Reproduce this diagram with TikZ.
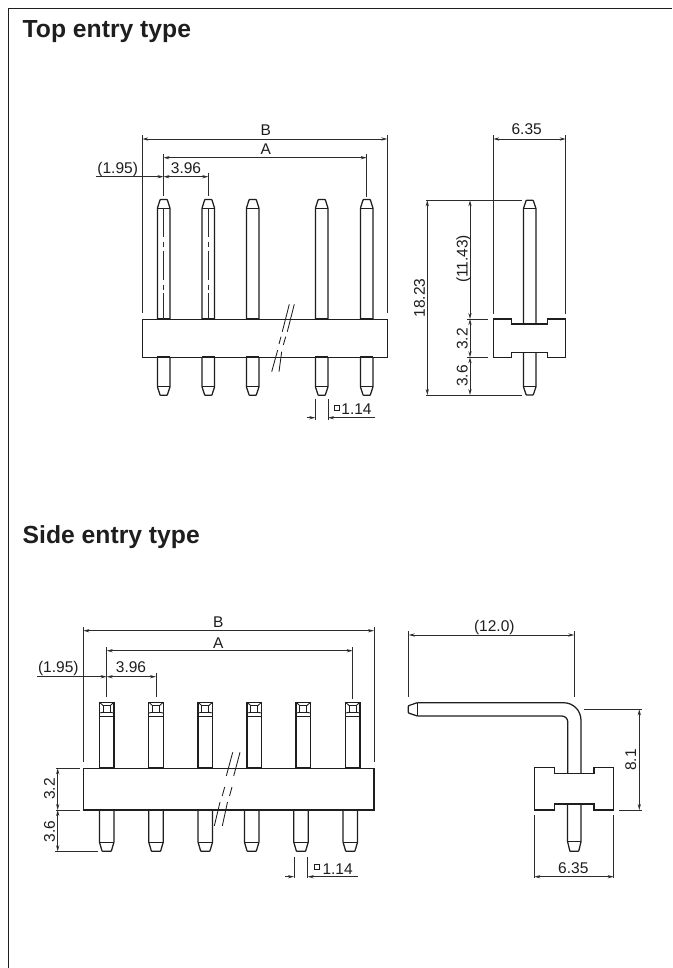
\documentclass[tikz,border=0pt]{standalone}
\usepackage{fontspec}
\setmainfont{Liberation Sans}
\usetikzlibrary{arrows.meta}
\definecolor{ink}{HTML}{1E1E1E}
\definecolor{dimc}{HTML}{2C2C2C}
\tikzset{
  outline/.style={draw=ink,line width=1.25pt,line join=miter},
  thin outline/.style={draw=ink,line width=0.85pt},
  extline/.style={draw=dimc,line width=0.9pt},
  dimline/.style={draw=dimc,line width=0.9pt},
  dimboth/.style={dimline,{Stealth[length=6pt,width=3.2pt]}-{Stealth[length=6pt,width=3.2pt]}},
  dimend/.style={dimline,-{Stealth[length=6pt,width=3.2pt]}},
  lab/.style={inner sep=0pt,anchor=base,text=ink,font=\fontsize{15.5}{17}\selectfont},
  vlab/.style={lab,rotate=90},
  heading/.style={inner sep=0pt,anchor=base west,text=ink,font=\fontsize{24.7}{28}\selectfont\bfseries},
  breakline/.style={draw=ink,line width=0.85pt},
  centre/.style={draw=dimc,line width=0.8pt,dash pattern=on 29pt off 5pt on 5pt off 3.5pt},
  sq/.style={draw=ink,line width=0.7pt,minimum size=5pt,inner sep=0pt}
}
\def\pinthick{1.8pt}
% pin pointing up: cx, top, shoulder, bottom, half width, half tip
\newcommand{\pinup}[6]{%
  \draw[outline,line join=round] (#1-#5,#4) -- (#1-#5,#3) -- (#1-#6,#2+0.5) -- (#1-#6+0.8,#2) -- (#1+#6-0.8,#2) -- (#1+#6,#2+0.5) -- (#1+#5,#3) -- (#1+#5,#4);
  \draw[thin outline] (#1-#5,#3) -- (#1+#5,#3);
  \draw[draw=ink,line width=\pinthick] (#1-#5,#4) -- (#1+#5,#4);
}
% pin pointing down: cx, start, shoulder, tip, half width, half tip
\newcommand{\pindown}[6]{%
  \draw[outline,line join=round] (#1-#5,#2) -- (#1-#5,#3) -- (#1-#6,#4-0.5) -- (#1-#6+0.8,#4) -- (#1+#6-0.8,#4) -- (#1+#6,#4-0.5) -- (#1+#5,#3) -- (#1+#5,#2);
  \draw[thin outline] (#1-#5,#3) -- (#1+#5,#3);
  \draw[draw=ink,line width=\pinthick] (#1-#5,#2) -- (#1+#5,#2);
}
% square-headed pin: cx
\newcommand{\headpin}[1]{%
  \draw[outline] (#1-7.2,768.3) -- (#1-7.2,702.3) -- (#1+7.2,702.3) -- (#1+7.2,768.3);
  \draw[thin outline] (#1-7.2,716.7) -- (#1+7.2,716.7);
  \draw[thin outline] (#1-3.6,705.5) rectangle (#1+3.6,712.3);
  \draw[thin outline] (#1-7.2,702.3) -- (#1-3.6,705.5) (#1+7.2,702.3) -- (#1+3.6,705.5)
     (#1-7.2,713) -- (#1-3.6,712.3) (#1+7.2,713) -- (#1+3.6,712.3);
  \draw[draw=ink,line width=1.8pt] (#1-7.2,768.3) -- (#1+7.2,768.3);
}
\begin{document}
\begin{tikzpicture}[x=1pt,y=-1pt]
\useasboundingbox (0,0) rectangle (672,968);
\fill[white] (0,0) rectangle (672,968);
% frame
\draw[draw=ink,line width=1.1pt] (8.5,968) -- (8.5,8.5) -- (672,8.5);
\node[heading] (title1) at (22.5,37.3) {Top entry type};
\node[heading] (title2) at (22.5,543.3) {Side entry type};

%%%%% Top entry, front view
\foreach \c in {163.7,208.3,252.7,321.7,366.7}{
  \pinup{\c}{199.5}{208.3}{319.3}{6.3}{3.7}
  \pindown{\c}{357.3}{386.7}{395.3}{6.3}{3.7}
}
\draw[centre] (163.7,208) -- (163.7,319);
\draw[centre] (208.3,208) -- (208.3,319);
\draw[outline] (142.3,319.3) rectangle (387.3,357.3);
% break marks
\draw[breakline] (294.3,304.3) -- (287.3,331.7) (285.7,336.7) -- (283.3,345) (281.7,351.7) -- (279,371.7);
\draw[breakline] (289.3,304.3) -- (282.3,331.7) (281,336.7) -- (279,344) (277.7,350) -- (271.7,371.7);
% dimensions
\draw[extline] (142.3,135) -- (142.3,313);
\draw[extline] (387.3,135) -- (387.3,313);
\draw[dimboth] (142.3,139) -- (387.3,139);
\node[lab] (B1) at (265.7,136) {B};
\draw[extline] (163.5,154) -- (163.5,196);
\draw[extline] (366.7,154) -- (366.7,197);
\draw[dimboth] (163.5,157.7) -- (366.7,157.7);
\node[lab] (A1) at (265.7,154.5) {A};
\draw[extline] (208.3,173) -- (208.3,196);
\draw[dimboth] (163.5,176.7) -- (208.3,176.7);
\draw[dimend] (96,176.7) -- (163.5,176.7);
\node[lab] (a195) at (117.7,173.3) {(1.95)};
\node[lab] (a396) at (186,173.3) {3.96};
\draw[extline] (315.3,399.3) -- (315.3,420);
\draw[extline] (328,399.3) -- (328,420);
\draw[dimend] (306.7,417.7) -- (315.3,417.7);
\draw[dimend] (375,417.7) -- (328,417.7);
\node[sq] (s1) at (336.7,408) {};
\node[lab,anchor=base west] (a114) at (341.2,414.5) {1.14};

%%%%% Top entry, side view
\pinup{529.7}{200.3}{208.7}{324}{6.3}{3.7}
\def\pinthick{1.25pt}
\pindown{529.7}{352.3}{386.7}{395}{6.3}{3.7}
\def\pinthick{1.8pt}
\draw[outline] (493.3,319) -- (511.7,319) -- (511.7,324) -- (547.7,324) -- (547.7,319) -- (565.7,319) -- (565.7,357.3) -- (547.7,357.3) -- (547.7,352.3) -- (511.7,352.3) -- (511.7,357.3) -- (493.3,357.3) -- cycle;
\draw[extline] (493.3,135) -- (493.3,314);
\draw[extline] (565.7,135) -- (565.7,314);
\draw[dimboth] (493.3,139) -- (565.7,139);
\node[lab] (b635) at (526.7,134.7) {6.35};
\draw[extline] (426,200.3) -- (521.7,200.3);
\draw[extline] (426,395) -- (521.7,395);
\draw[extline] (467,319) -- (488.3,319);
\draw[extline] (467,357.3) -- (488.3,357.3);
\draw[dimboth] (427.3,200.3) -- (427.3,395);
\draw[dimboth] (470,200.3) -- (470,319);
\draw[dimboth] (470,319) -- (470,357.3);
\draw[dimboth] (470,357.3) -- (470,395);
\node[vlab] (b1823) at (424.8,298) {18.23};
\node[vlab] (b1143) at (467.5,259) {(11.43)};
\node[vlab] (b32) at (467.5,339) {3.2};
\node[vlab] (b36) at (467.5,376) {3.6};

%%%%% Side entry, front view
\foreach \c in {106.7,156,205.3,254.3,303.3,352.7}{ \headpin{\c} }
\foreach \c in {106.7,156,205.3,251.7,301,350.3}{ \pindown{\c}{810}{842.3}{851.3}{7.2}{4.7} }
\draw[outline] (83.3,768.3) rectangle (374,810);
\draw[breakline] (240,752.3) -- (233.7,776) (232,787) -- (229.5,796) (227.5,802) -- (222.3,826);
\draw[breakline] (232.7,752.3) -- (226.3,776) (224.7,787) -- (222.2,796) (220,802) -- (214.3,826);
\draw[extline] (83.3,627) -- (83.3,761.7);
\draw[extline] (374,627) -- (374,761.7);
\draw[dimboth] (83.3,630.7) -- (374,630.7);
\node[lab] (B2) at (218.3,627.3) {B};
\draw[extline] (106.7,647) -- (106.7,697.3);
\draw[extline] (352.7,647) -- (352.7,698.5);
\draw[dimboth] (106.7,650.7) -- (352.7,650.7);
\node[lab] (A2) at (218.3,648) {A};
\draw[extline] (156,673) -- (156,697.3);
\draw[dimboth] (106.7,676.7) -- (156,676.7);
\draw[dimend] (36.7,676.7) -- (106.7,676.7);
\node[lab] (c195) at (58.3,672.3) {(1.95)};
\node[lab] (c396) at (131,672.3) {3.96};
\draw[extline] (56,768.3) -- (80,768.3);
\draw[extline] (56,810) -- (80,810);
\draw[extline] (55,851.3) -- (98,851.3);
\draw[dimboth] (57.7,768.3) -- (57.7,810);
\draw[dimboth] (57.7,810) -- (57.7,851.3);
\node[vlab] (c32) at (54.8,789) {3.2};
\node[vlab] (c36) at (54.8,831.7) {3.6};
\draw[extline] (294,856.7) -- (294,878.3);
\draw[extline] (307.7,856.7) -- (307.7,878.3);
\draw[dimend] (285,876.7) -- (294,876.7);
\draw[dimend] (357.7,876.7) -- (307.7,876.7);
\node[sq] (s2) at (317.3,866.7) {};
\node[lab,anchor=base west] (c114) at (322.3,874) {1.14};

%%%%% Side entry, side view
\pindown{574.3}{804}{841.7}{851.3}{6.7}{4.5}
\draw[outline,line join=round] (417.3,702.7) -- (563.3,702.7) .. controls (573.5,702.7) and (581,710.5) .. (581,720.5) -- (581,773.3);
\draw[outline,line join=round] (417.3,716) -- (561.7,716) .. controls (565,716) and (567.7,718.5) .. (567.7,721.7) -- (567.7,773.3);
\draw[outline,line join=round] (417.3,702.7) -- (417.3,716);
\draw[outline,line join=round] (417.3,702.7) -- (409,705.5) -- (408.3,706.5) -- (408.3,712.2) -- (409,713.2) -- (417.3,716);
\draw[outline] (534.3,767.7) -- (554.3,767.7) -- (554.3,773.3) -- (594,773.3) -- (594,767.7) -- (613.7,767.7) -- (613.7,810) -- (594,810) -- (594,804) -- (554.3,804) -- (554.3,810) -- (534.3,810) -- cycle;
\draw[extline] (408.7,631) -- (408.7,697.3);
\draw[extline] (574.3,631) -- (574.3,697.3);
\draw[dimboth] (408.7,635) -- (574.3,635);
\node[lab] (d120) at (494.3,631.5) {(12.0)};
\draw[extline] (584,709.3) -- (641.7,709.3);
\draw[extline] (619,810) -- (641.7,810);
\draw[dimboth] (639.3,709.3) -- (639.3,810);
\node[vlab] (d81) at (636,760) {8.1};
\draw[extline] (534.3,815) -- (534.3,878.3);
\draw[extline] (613.7,815) -- (613.7,878.3);
\draw[dimboth] (534.3,876.7) -- (613.7,876.7);
\node[lab] (d635) at (573.3,873.3) {6.35};
\end{tikzpicture}
\end{document}
